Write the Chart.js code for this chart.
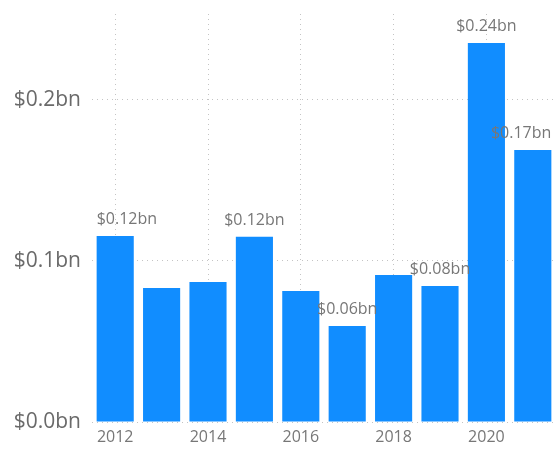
<!DOCTYPE html>
<html lang="en">
<head>
    <meta charset="UTF-8">
    <title>Yearly Amount</title>
    <script src="https://cdn.jsdelivr.net/npm/chart.js"></script>
    <style>
        body { margin: 0; background: #fff; }
        #wrap { width: 557px; height: 450px; position: relative; }
    </style>
</head>
<body>
    <div id="wrap"><canvas id="yearChart"></canvas></div>
    <script>
        // values in $bn
        var years = ['2012', '2013', '2014', '2015', '2016', '2017', '2018', '2019', '2020', '2021'];
        var amounts = [0.1155, 0.0832, 0.0870, 0.1150, 0.0814, 0.0596, 0.0913, 0.0845, 0.2354, 0.1690];
        var shownLabels = ['$0.12bn', null, null, '$0.12bn', null, '$0.06bn', null, '$0.08bn', '$0.24bn', '$0.17bn'];
        var yTicks = [0, 0.1, 0.2];

        var gridColor = '#c4c4c4';
        var fontFamily = '"Open Sans", "Noto Sans", sans-serif';

        // draws the value labels above the bars, kept inside the plot area
        var barLabels = {
            id: 'barLabels',
            afterDatasetsDraw: function(chart) {
                var ctx = chart.ctx;
                var area = chart.chartArea;
                var meta = chart.getDatasetMeta(0);
                ctx.save();
                ctx.font = '16px ' + fontFamily;
                ctx.fillStyle = '#777777';
                ctx.textBaseline = 'alphabetic';
                meta.data.forEach(function(bar, i) {
                    var text = shownLabels[i];
                    if (!text) return;
                    var w = ctx.measureText(text).width;
                    var x = bar.x;
                    ctx.textAlign = 'center';
                    if (x - w / 2 < area.left) {
                        ctx.textAlign = 'left';
                        x = bar.x - bar.width / 2;
                    } else if (x + w / 2 > area.right) {
                        ctx.textAlign = 'right';
                        x = bar.x + bar.width / 2;
                    }
                    ctx.fillText(text, x, bar.y - 12);
                });
                ctx.restore();
            }
        };

        var ctx = document.getElementById('yearChart').getContext('2d');
        var yearChart = new Chart(ctx, {
            type: 'bar',
            data: {
                labels: years,
                datasets: [{
                    data: amounts,
                    backgroundColor: '#118DFF',
                    borderWidth: 0,
                    categoryPercentage: 0.8,
                    barPercentage: 1.0
                }]
            },
            options: {
                responsive: true,
                maintainAspectRatio: false,
                animation: false,
                layout: { padding: { top: 14, right: 1, bottom: 0, left: 0 } },
                plugins: {
                    legend: { display: false },
                    tooltip: { enabled: false }
                },
                scales: {
                    x: {
                        border: { display: false, dash: [1, 4] },
                        grid: {
                            offset: false,
                            drawTicks: false,
                            lineWidth: 1,
                            color: function(c) { return c.index % 2 === 0 ? gridColor : 'rgba(0,0,0,0)'; }
                        },
                        ticks: {
                            autoSkip: false,
                            maxRotation: 0,
                            padding: 6,
                            color: '#777777',
                            font: { family: fontFamily, size: 16 },
                            callback: function(v, i) { return i % 2 === 0 ? years[i] : ''; }
                        },
                        afterFit: function(scale) { scale.height = 28; }
                    },
                    y: {
                        min: 0,
                        max: 0.2534,
                        border: { display: false, dash: [1, 4] },
                        grid: {
                            drawTicks: false,
                            color: gridColor
                        },
                        afterBuildTicks: function(scale) {
                            scale.ticks = yTicks.map(function(v) { return { value: v }; });
                        },
                        ticks: {
                            padding: 11,
                            color: '#6a6a6a',
                            font: { family: fontFamily, size: 21 },
                            callback: function(v) { return '$' + v.toFixed(1) + 'bn'; }
                        },
                        afterFit: function(scale) {
                            scale.width = 92;
                            scale.paddingTop = 0;
                            scale.paddingBottom = 0;
                        }
                    }
                }
            },
            plugins: [barLabels]
        });
    </script>
</body>
</html>
